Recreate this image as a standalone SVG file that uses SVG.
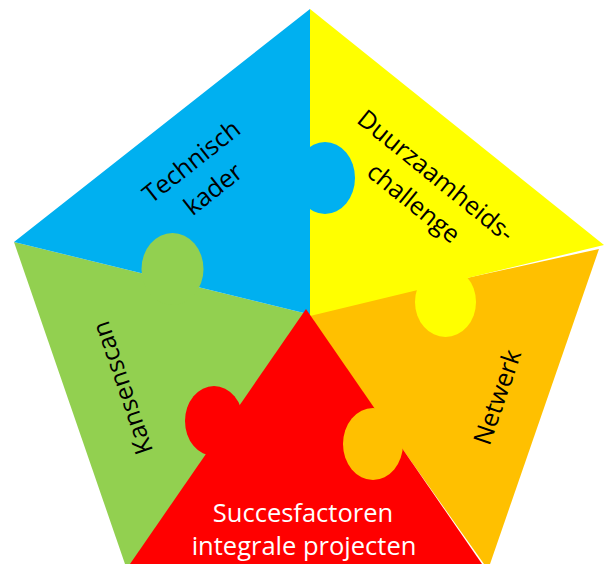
<svg xmlns="http://www.w3.org/2000/svg" width="611" height="564" viewBox="0 0 611 564">
  <style>
    .lbl { font-family: "Open Sans", "Liberation Sans", sans-serif; font-size: 25px; text-anchor: middle; fill: #000000; }
    .big { font-size: 25.5px; }
    .white { fill: #FFFFFF; }
    .blue { fill: #00B0F0; }
    .yellow { fill: #FFFF00; }
    .green { fill: #92D050; }
    .orange { fill: #FFC000; }
    .red { fill: #FF0000; }
  </style>
  <rect width="611" height="564" fill="#FFFFFF"/>

  <!-- puzzle pieces of the pentagon -->
  <g id="node-orange">
    <polygon class="orange" points="306,313 599,249 490,564 484,564"/>
  </g>
  <g id="node-green">
    <polygon class="green" points="14,242 308,314 200,564 125,564"/>
  </g>
  <g id="node-blue">
    <polygon class="blue" points="310,9 14,242 306,313.5 310,314.5"/>
  </g>
  <g id="node-yellow">
    <polygon class="yellow" points="310,9 604,245 310,316"/>
  </g>

  <!-- knobs interlocking the pieces -->
  <g id="connectors">
    <ellipse class="blue" cx="325" cy="178" rx="30" ry="36"/>
    <ellipse class="green" cx="172.5" cy="269" rx="31" ry="36"/>
    <ellipse class="yellow" cx="445.5" cy="302" rx="30.5" ry="35"/>
  </g>

  <g id="node-red">
    <polygon class="red" points="306,309 130,564 482,564"/>
    <ellipse class="red" cx="214" cy="421" rx="29" ry="35"/>
  </g>
  <g id="knob-orange">
    <ellipse class="orange" cx="373" cy="444" rx="30" ry="36"/>
  </g>

  <!-- labels -->
  <g id="label-technisch" transform="translate(202,175) rotate(-38.4)">
    <text class="lbl" x="0" y="-8.5">Technisch</text>
    <text class="lbl" x="0" y="26.5">kader</text>
  </g>
  <g id="label-duurzaam" transform="translate(425,189) rotate(39)">
    <text class="lbl" x="0" y="-8.5">Duurzaamheids-</text>
    <text class="lbl" x="0" y="26.5">challenge</text>
  </g>
  <g id="label-kansenscan" transform="translate(122,388) rotate(-109)">
    <text class="lbl" x="0" y="9">Kansenscan</text>
  </g>
  <g id="label-netwerk" transform="translate(497,397) rotate(-71)">
    <text class="lbl" x="0" y="9">Netwerk</text>
  </g>
  <g id="label-succes">
    <text class="lbl big white" x="303" y="522">Succesfactoren</text>
    <text class="lbl big white" x="304" y="555">integrale projecten</text>
  </g>
</svg>
